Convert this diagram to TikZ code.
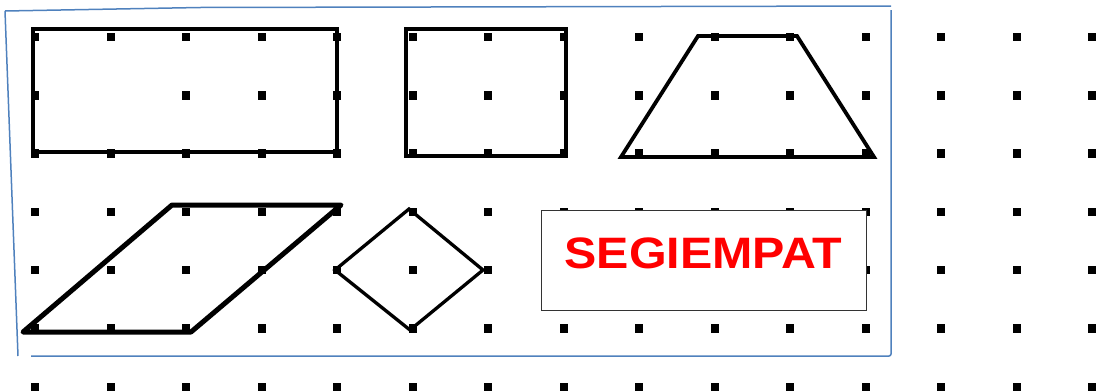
\documentclass[tikz,border=0pt]{standalone}
\usepackage{fontspec}
\newfontfamily\arialfont{Liberation Sans}
\begin{document}
\begin{tikzpicture}[x=1pt,y=-1pt,
  griddot/.style={fill=black},
  shapeline/.style={draw=black,line join=miter},
  frameline/.style={draw=frameblue,line width=1.5pt},
  labelbox/.style={draw=black!80,line width=1pt,fill=white,minimum width=325pt,minimum height=100pt,inner sep=0pt},
]
\definecolor{frameblue}{HTML}{4F81BD}
\useasboundingbox (0,0) rectangle (1097,391);
% dot grid
\foreach \i in {0,...,14}{
  \foreach \j in {0,...,6}{
    \pgfmathsetmacro{\xx}{35+75.5*\i}
    \pgfmathsetmacro{\yy}{37+58.3*\j}
    \ifnum\i=1 \ifnum\j=1 \else
      \fill[griddot] (\xx-4,\yy-4.2) rectangle (\xx+4,\yy+4.2);
    \fi\else
      \fill[griddot] (\xx-4,\yy-4.2) rectangle (\xx+4,\yy+4.2);
    \fi
  }
}
% blue frame
\draw[frameline] (5,11) -- (200,7.5) -- (891,6);
\draw[frameline] (5,11) -- (18,356);
\draw[frameline,rounded corners=2pt] (891,10) -- (891,356) -- (31,356);
% rectangles
\draw[shapeline,line width=4.5pt] (33,29) rectangle (337,152);
\draw[shapeline,line width=4.5pt] (406,29) rectangle (566,156);
% trapezoid
\draw[shapeline,line width=3.8pt] (621,157) -- (698,36) -- (797,36) -- (874,157) -- cycle;
% parallelogram
\draw[shapeline,line width=5pt,line join=round] (23,332) -- (172,205) -- (341,205) -- (191,332) -- cycle;
% rhombus
\draw[shapeline,line width=3.3pt] (409,209) -- (335,270) -- (410,330) -- (483,270) -- cycle;
% label box
\node[labelbox] (label) at (703.5,260) {};
\node[text=red,font=\arialfont\bfseries\fontsize{44}{50}\selectfont,xscale=1.1,inner sep=0pt] (title) at (703.5,253) {SEGIEMPAT};
\end{tikzpicture}
\end{document}
